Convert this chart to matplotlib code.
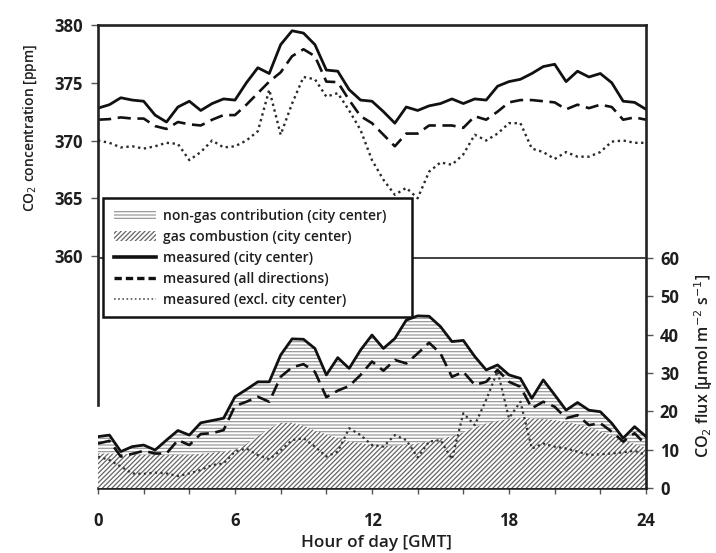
import numpy as np
import matplotlib
matplotlib.use("Agg")
import matplotlib.pyplot as plt
from matplotlib.patches import Patch
from matplotlib.lines import Line2D

# ---------------- data ----------------
hours = np.arange(0, 24.01, 0.5)

conc_city = [372.8, 373.1, 373.7, 373.5, 373.4, 372.2, 371.6, 372.9, 373.4, 372.6,
             373.2, 373.6, 373.5, 375.0, 376.3, 375.8, 378.3, 379.5, 379.3, 378.3,
             376.1, 376.0, 374.4, 373.5, 373.4, 372.5, 371.5, 372.9, 372.6, 373.0,
             373.2, 373.6, 373.2, 373.6, 373.5, 374.7, 375.1, 375.3, 375.8, 376.4,
             376.6, 375.1, 376.0, 375.5, 375.8, 375.0, 373.4, 373.3, 372.7]
conc_all = [371.8, 371.85, 372.0, 371.9, 371.9, 371.25, 371.0, 371.6, 371.4, 371.3,
            371.8, 372.2, 372.2, 373.1, 374.1, 375.1, 375.9, 377.3, 377.9, 377.3,
            375.1, 375.05, 373.5, 372.1, 371.5, 370.5, 369.5, 370.6, 370.6, 371.3,
            371.3, 371.3, 371.1, 372.1, 371.8, 372.5, 373.3, 373.5, 373.5, 373.4,
            373.3, 372.7, 373.1, 372.8, 373.1, 372.9, 371.8, 372.0, 371.8]
conc_excl = [370.0, 369.8, 369.4, 369.5, 369.3, 369.5, 369.8, 369.7, 368.3, 369.0,
             370.0, 369.4, 369.5, 370.0, 370.8, 374.4, 370.5, 373.2, 375.5, 375.3,
             373.8, 374.1, 372.6, 370.9, 368.3, 366.6, 365.3, 365.9, 365.0, 367.3,
             368.1, 367.9, 368.8, 370.5, 370.0, 370.6, 371.5, 371.5, 369.3, 369.0,
             368.4, 369.0, 368.6, 368.6, 369.0, 369.9, 370.0, 369.8, 369.8]

flux_city = [13.4, 13.8, 9.5, 10.8, 11.2, 9.9, 12.5, 15.0, 13.8, 17.0,
             17.6, 18.2, 23.8, 25.7, 27.7, 27.7, 34.7, 38.9, 38.8, 36.4,
             29.5, 34.0, 31.2, 36.0, 39.9, 36.4, 39.0, 43.8, 44.9, 44.8,
             42.1, 38.2, 38.5, 34.3, 30.8, 32.1, 29.5, 28.6, 23.4, 28.2,
             24.3, 20.3, 22.3, 20.3, 19.9, 16.9, 13.0, 16.0, 13.4]
flux_all = [11.6, 12.3, 8.2, 8.9, 9.7, 9.0, 9.0, 12.5, 11.2, 14.1,
            14.3, 15.1, 21.4, 22.5, 23.8, 22.5, 29.0, 31.5, 32.3, 30.3,
            23.7, 25.4, 26.6, 29.5, 33.0, 30.6, 33.4, 32.5, 35.1, 37.9,
            35.1, 29.0, 30.3, 26.9, 27.7, 30.8, 27.7, 26.4, 20.8, 22.5,
            21.2, 18.2, 19.0, 16.4, 16.9, 14.7, 12.1, 14.3, 11.2]
flux_excl = [8.2, 7.3, 5.6, 3.8, 3.7, 4.0, 3.8, 3.1, 3.8, 4.7,
             6.0, 6.4, 9.5, 10.3, 8.6, 7.5, 9.8, 12.5, 13.0, 10.8,
             8.2, 9.5, 15.6, 13.8, 11.2, 10.8, 13.8, 12.5, 8.0, 12.1,
             12.5, 7.5, 19.5, 16.4, 23.0, 30.5, 18.2, 22.5, 10.3, 11.6,
             10.8, 10.3, 9.5, 8.6, 8.8, 9.0, 9.3, 9.7, 8.6]
flux_gas = [9.0, 9.0, 8.9, 8.8, 8.7, 8.6, 8.6, 8.6, 8.7, 8.9,
            9.2, 9.5, 10.0, 11.5, 13.5, 15.5, 17.0, 17.0, 16.3, 15.0,
            14.0, 13.0, 12.2, 11.7, 11.2, 11.0, 11.0, 11.2, 11.6, 12.2,
            12.8, 13.5, 14.5, 15.8, 16.8, 17.5, 18.0, 18.3, 18.2, 18.0,
            17.7, 17.2, 16.6, 15.8, 14.8, 13.7, 12.5, 11.5, 10.5]

conc_ticks = [360, 365, 370, 375, 380]
flux_ticks = [0, 10, 20, 30, 40, 50, 60]
hour_ticks = [0, 6, 12, 18, 24]

labels = ["non-gas contribution (city center)", "gas combustion (city center)",
          "measured (city center)", "measured (all directions)",
          "measured (excl. city center)"]

# ---------------- style ----------------
FONT = "Open Sans"
plt.rcParams["font.family"] = [FONT, "DejaVu Sans"]
plt.rcParams["hatch.linewidth"] = 0.9
TXT = "#1e1e1e"
HCOL_H = "#9a9a9a"
HCOL_D = "#646464"

W, H = 716, 553
fig = plt.figure(figsize=(W / 100, H / 100), dpi=100)

L, R, T, B = 98, 646, 25, 488
ax = fig.add_axes([L / W, 1 - B / H, (R - L) / W, (B - T) / H])
ax2 = ax.twinx()

ax.set_xlim(0, 24)
ppm_per_px = 5 / 57.75
ax.set_ylim(380 - (B - T) * ppm_per_px, 380)
flux_per_px = 60 / 230
ax2.set_ylim(0, (B - T) * flux_per_px)

# lower panel (flux)
ax2.fill_between(hours, 0, flux_city, facecolor="white", edgecolor=HCOL_H,
                 hatch="-----", linewidth=0, zorder=1)
ax2.fill_between(hours, 0, flux_gas, facecolor="white", edgecolor=HCOL_D,
                 hatch="///////", linewidth=0, zorder=2)
ax2.axhline(60, color="#333333", lw=1.3, zorder=3)
ax2.plot(hours, flux_city, color="#111111", lw=2.0, zorder=5)
ax2.plot(hours, flux_all, color="#111111", lw=1.9, ls=(0, (5, 2.5)), zorder=5)
ax2.plot(hours, flux_excl, color="#333333", lw=1.6, ls=(0, (1, 1.5)), zorder=5)

# upper panel (concentration)
ax.plot(hours, conc_city, color="#111111", lw=2.0)
ax.plot(hours, conc_all, color="#111111", lw=1.9, ls=(0, (5, 2.5)))
ax.plot(hours, conc_excl, color="#2a2a2a", lw=1.7, ls=(0, (1, 1.5)))

# spines
for a in (ax, ax2):
    for s in a.spines.values():
        s.set_linewidth(1.9)
        s.set_color("#222222")
ax.spines["right"].set_visible(False)
ax2.spines["left"].set_visible(False)
ax2.spines["top"].set_visible(False)
ax2.spines["bottom"].set_visible(False)
ax.spines["left"].set_bounds(380 - (405 - T) * ppm_per_px, 380)

# ticks
ax.set_xticks(hour_ticks)
ax.set_xticks(np.arange(0, 25, 2), minor=True)
ax.tick_params(axis="x", which="both", direction="out", length=4, width=1,
               colors="#555555", pad=13, labelsize=12, labelcolor=TXT)
ax.set_yticks(conc_ticks)
ax.tick_params(axis="y", direction="out", length=5, width=1, colors="#555555",
               pad=6, labelsize=12, labelcolor=TXT)
ax2.set_yticks(flux_ticks)
ax2.tick_params(axis="y", direction="out", length=5, width=1, colors="#555555",
                pad=5, labelsize=12, labelcolor=TXT)
for lab in ax.get_xticklabels() + ax.get_yticklabels() + ax2.get_yticklabels():
    lab.set_fontweight("bold")

# axis labels
fig.text(30 / W, 1 - 128 / H, "CO$_2$ concentration [ppm]", rotation=90,
         ha="center", va="center", fontsize=10, fontweight="semibold", color=TXT)
fig.text(704 / W, 1 - 366 / H, "CO$_2$ flux [µmol m$^{-2}$ s$^{-1}$]", rotation=90,
         ha="center", va="center", fontsize=11.5, fontweight="semibold", color=TXT)
fig.text(376 / W, 1 - 543 / H, "Hour of day [GMT]", ha="center", va="center",
         fontsize=12.3, fontweight="semibold", color=TXT)

# legend
handles = [
    Patch(facecolor="white", edgecolor=HCOL_H, hatch="-----", lw=0),
    Patch(facecolor="white", edgecolor=HCOL_D, hatch="///////", lw=0),
    Line2D([], [], color="#111111", lw=2.6),
    Line2D([], [], color="#111111", lw=2.4, ls=(0, (2.2, 1.2))),
    Line2D([], [], color="#555555", lw=1.2, ls=(0, (1, 1.5))),
]
lx0, ly0, lx1, ly1 = 103, 198, 412, 318
leg = ax2.legend(handles, labels, loc="upper left", mode="expand",
                 bbox_to_anchor=(lx0 / W, 1 - ly1 / H, (lx1 - lx0) / W, (ly1 - ly0) / H),
                 bbox_transform=fig.transFigure,
                 prop={"family": FONT, "weight": "semibold", "size": 10},
                 fancybox=False, framealpha=1, edgecolor="#111111",
                 handlelength=3.0, handleheight=0.8, handletextpad=0.55,
                 labelspacing=0.5, borderpad=0.78, borderaxespad=0)
leg.get_frame().set_linewidth(1.8)
leg.set_zorder(20)
for t in leg.get_texts():
    t.set_color(TXT)

fig.savefig("out.png", dpi=100)
